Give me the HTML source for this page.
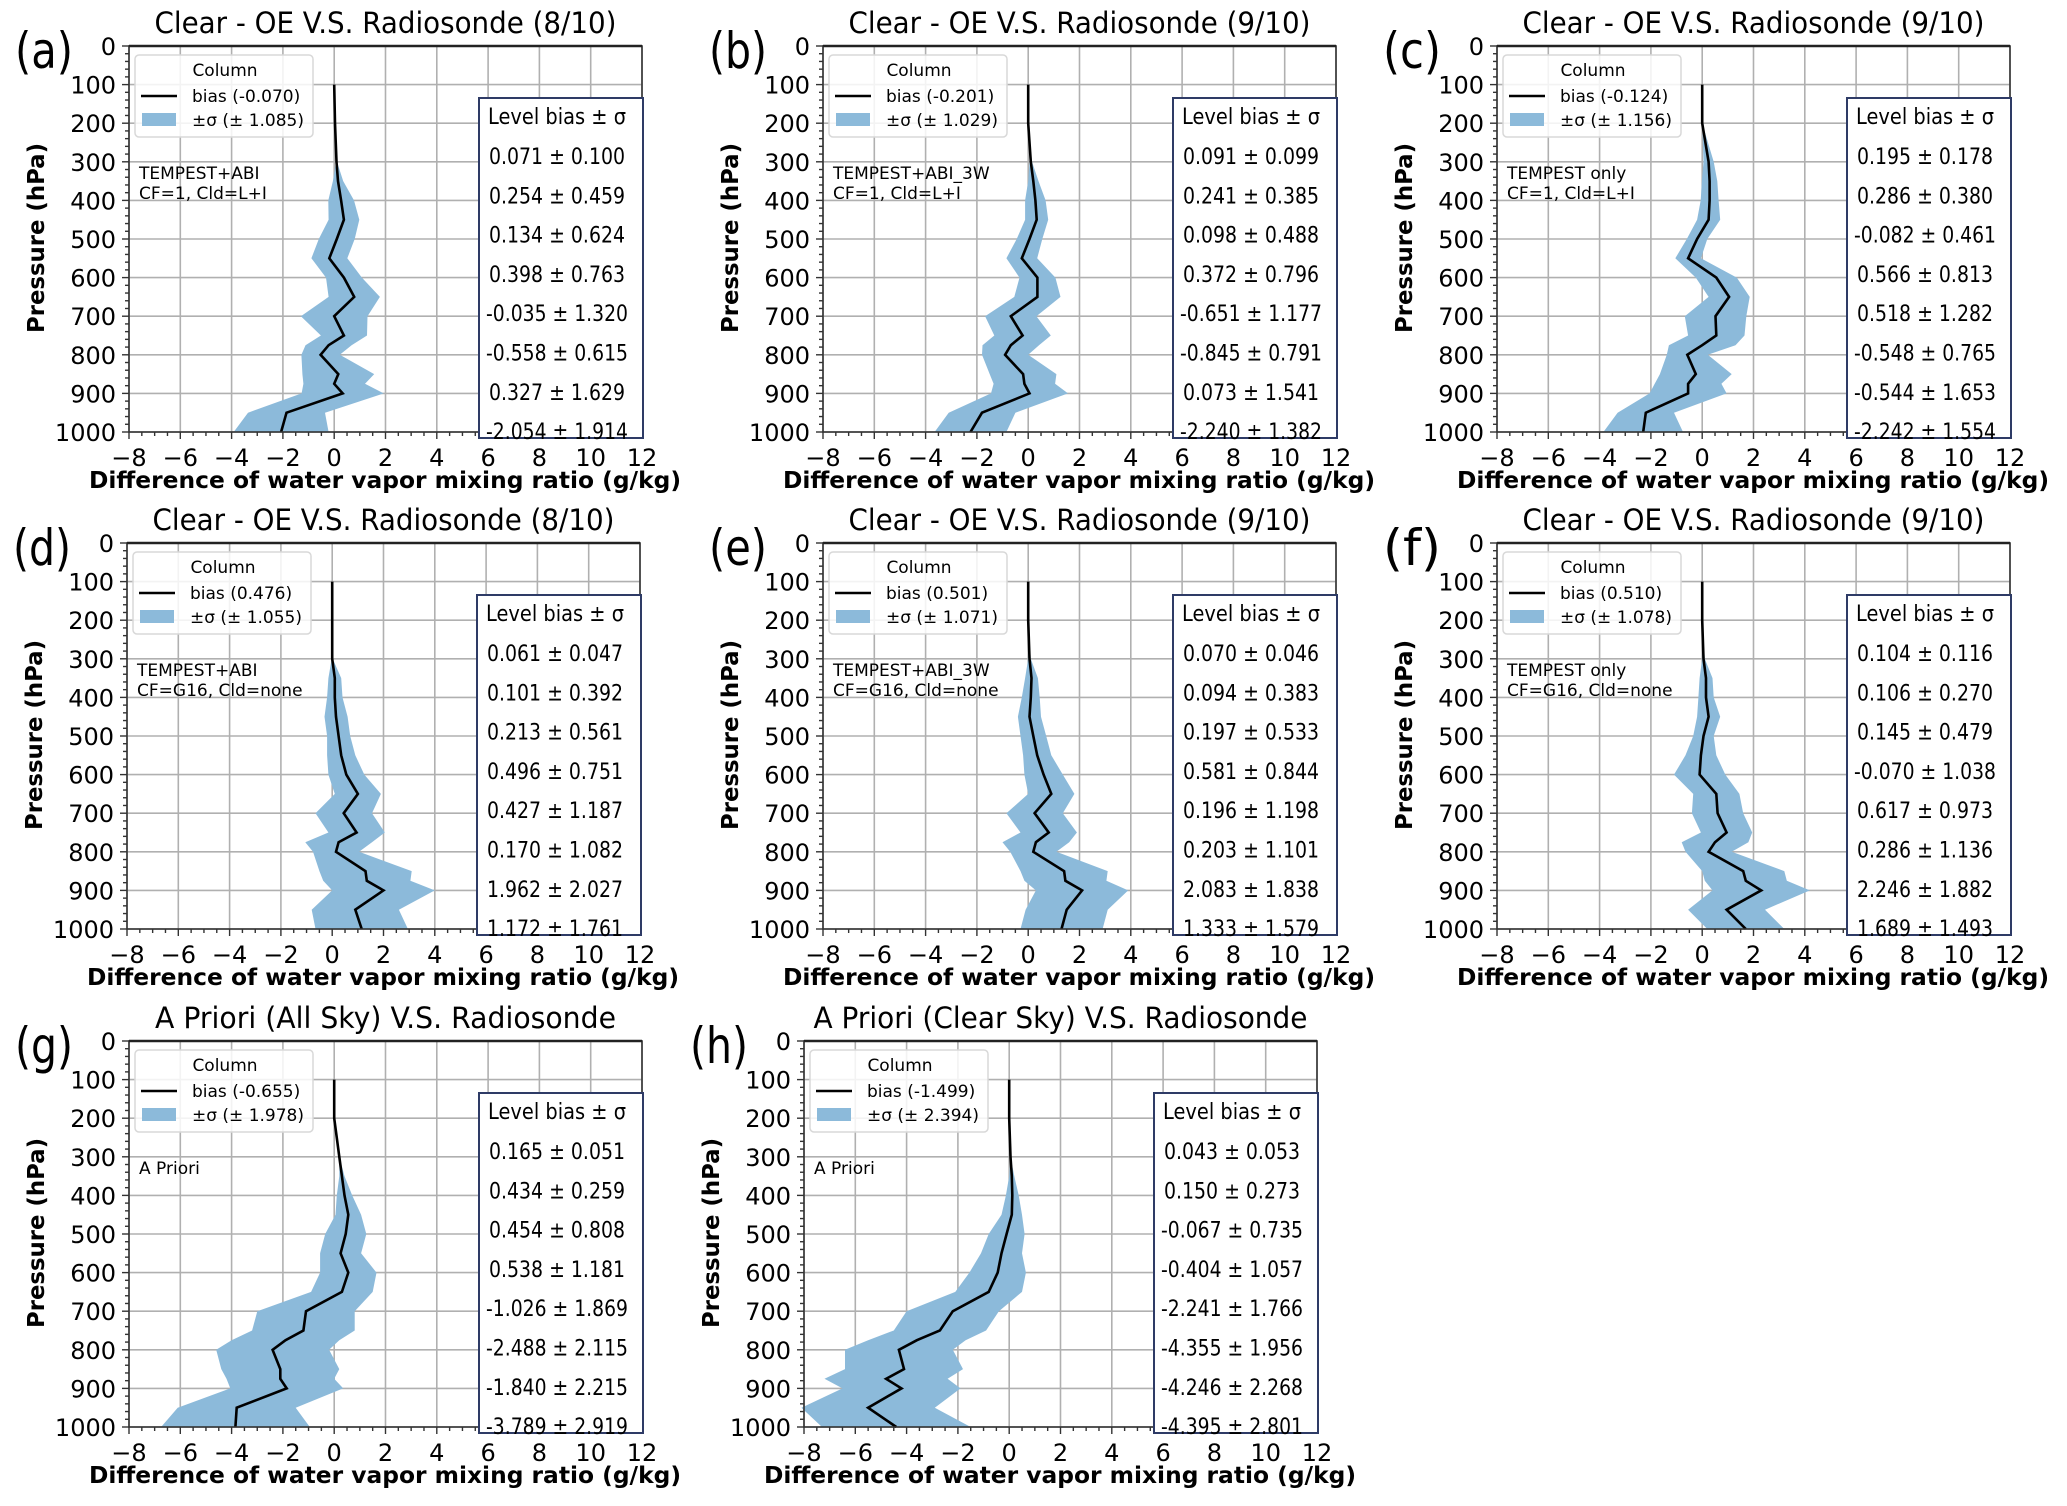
<!DOCTYPE html>
<html><head><meta charset="utf-8"><style>
html,body{margin:0;padding:0;background:#fff}
svg{display:block}
text{font-family:"DejaVu Sans","Liberation Sans",sans-serif;fill:#000}
</style></head><body>
<svg id="fig" width="2067" height="1506" viewBox="0 0 2067 1506" xmlns="http://www.w3.org/2000/svg"></svg>
<script>
const levels=[100,200,300,350,400,450,500,550,600,650,700,750,775,800,850,875,900,950,1000];
const xTicks=[-8,-6,-4,-2,0,2,4,6,8,10,12];
const yTicks=[0,100,200,300,400,500,600,700,800,900,1000];
const biasA=[0,0.03,0.09,0.15,0.27,0.38,0.1,-0.19,0.38,0.78,0.0,0.38,-0.22,-0.53,0.16,0,0.33,-1.86,-2.07];
const sigA=[0,0,0.02,0.2,0.5,0.6,0.7,0.7,0.7,1.0,1.3,0.9,0.9,0.75,1.4,1.2,1.6,1.5,1.85];
const biasB=[0,0,0.1,0.2,0.28,0.33,0.05,-0.25,0.36,0.36,-0.68,-0.22,-0.68,-0.9,-0.2,-0.15,0.05,-1.8,-2.25];
const sigB=[0,0,0.05,0.2,0.4,0.45,0.5,0.6,0.7,0.9,1.0,1.1,1.1,0.9,1.3,1.2,1.5,1.3,1.4];
const biasC=[0,0,0.25,0.29,0.29,0.25,-0.2,-0.55,0.55,1.05,0.52,0.55,0.0,-0.58,-0.25,-0.55,-0.55,-2.2,-2.3];
const sigC=[0,0,0.2,0.3,0.35,0.45,0.4,0.5,0.8,0.8,1.2,1.1,1.3,0.8,1.4,1.3,1.5,1.1,1.55];
const biasD=[0,0,0.0,0.1,0.1,0.15,0.25,0.35,0.55,1.0,0.45,0.95,0.25,0.15,1.3,1.35,2.0,0.9,1.15];
const sigD=[0,0,0.02,0.25,0.3,0.45,0.45,0.55,0.7,0.9,1.1,1.1,1.3,0.9,1.8,1.7,2.0,1.7,1.8];
const biasE=[0,0,0.05,0.13,0.1,0.05,0.2,0.35,0.6,0.9,0.25,0.8,0.3,0.2,1.4,1.45,2.1,1.5,1.3];
const sigE=[0,0,0.05,0.25,0.35,0.45,0.5,0.55,0.75,0.9,1.1,1.1,1.3,0.9,1.7,1.6,1.8,1.6,1.6];
const biasF=[0,0,0.05,0.15,0.15,0.25,0.05,-0.05,-0.1,0.55,0.6,0.95,0.5,0.25,1.6,1.7,2.3,0.95,1.7];
const sigF=[0,0,0.05,0.25,0.3,0.45,0.4,0.6,1.0,0.9,1.0,1.0,1.3,0.9,1.6,1.6,1.9,1.5,1.5];
const biasG=[0,0,0.2,0.3,0.4,0.55,0.45,0.25,0.55,0.3,-1.1,-1.2,-1.9,-2.4,-2.1,-2.1,-1.85,-3.8,-3.85];
const sigG=[0,0,0,0.1,0.3,0.5,0.8,0.8,1.1,1.2,1.9,2.0,2.1,2.2,2.3,2.1,2.2,2.3,2.9];
const biasH=[0,0,0.05,0.1,0.12,0.1,-0.1,-0.3,-0.45,-0.8,-2.2,-2.7,-3.6,-4.3,-4.1,-4.8,-4.2,-5.5,-4.4];
const sigH=[0,0,0,0.1,0.25,0.4,0.7,0.8,1.1,1.3,1.8,1.8,1.9,2.1,2.3,2.4,2.3,2.6,2.9];
const tableA=["0.071 ± 0.100","0.254 ± 0.459","0.134 ± 0.624","0.398 ± 0.763","-0.035 ± 1.320","-0.558 ± 0.615","0.327 ± 1.629","-2.054 ± 1.914"];
const tableB=["0.091 ± 0.099","0.241 ± 0.385","0.098 ± 0.488","0.372 ± 0.796","-0.651 ± 1.177","-0.845 ± 0.791","0.073 ± 1.541","-2.240 ± 1.382"];
const tableC=["0.195 ± 0.178","0.286 ± 0.380","-0.082 ± 0.461","0.566 ± 0.813","0.518 ± 1.282","-0.548 ± 0.765","-0.544 ± 1.653","-2.242 ± 1.554"];
const tableD=["0.061 ± 0.047","0.101 ± 0.392","0.213 ± 0.561","0.496 ± 0.751","0.427 ± 1.187","0.170 ± 1.082","1.962 ± 2.027","1.172 ± 1.761"];
const tableE=["0.070 ± 0.046","0.094 ± 0.383","0.197 ± 0.533","0.581 ± 0.844","0.196 ± 1.198","0.203 ± 1.101","2.083 ± 1.838","1.333 ± 1.579"];
const tableF=["0.104 ± 0.116","0.106 ± 0.270","0.145 ± 0.479","-0.070 ± 1.038","0.617 ± 0.973","0.286 ± 1.136","2.246 ± 1.882","1.689 ± 1.493"];
const tableG=["0.165 ± 0.051","0.434 ± 0.259","0.454 ± 0.808","0.538 ± 1.181","-1.026 ± 1.869","-2.488 ± 2.115","-1.840 ± 2.215","-3.789 ± 2.919"];
const tableH=["0.043 ± 0.053","0.150 ± 0.273","-0.067 ± 0.735","-0.404 ± 1.057","-2.241 ± 1.766","-4.355 ± 1.956","-4.246 ± 2.268","-4.395 ± 2.801"];

const panels=[
 {id:'a',L:129,T:46,title:'Clear - OE V.S. Radiosonde (8/10)',tl:462,b:'-0.070',s:'1.085',note:['TEMPEST+ABI','CF=1, Cld=L+I'],bias:biasA,sig:sigA,tab:tableA},
 {id:'b',L:823,T:46,title:'Clear - OE V.S. Radiosonde (9/10)',tl:462,b:'-0.201',s:'1.029',note:['TEMPEST+ABI_3W','CF=1, Cld=L+I'],bias:biasB,sig:sigB,tab:tableB},
 {id:'c',L:1497,T:46,title:'Clear - OE V.S. Radiosonde (9/10)',tl:462,b:'-0.124',s:'1.156',note:['TEMPEST only','CF=1, Cld=L+I'],bias:biasC,sig:sigC,tab:tableC},
 {id:'d',L:127,T:543,title:'Clear - OE V.S. Radiosonde (8/10)',tl:462,b:'0.476',s:'1.055',note:['TEMPEST+ABI','CF=G16, Cld=none'],bias:biasD,sig:sigD,tab:tableD},
 {id:'e',L:823,T:543,title:'Clear - OE V.S. Radiosonde (9/10)',tl:462,b:'0.501',s:'1.071',note:['TEMPEST+ABI_3W','CF=G16, Cld=none'],bias:biasE,sig:sigE,tab:tableE},
 {id:'f',L:1497,T:543,title:'Clear - OE V.S. Radiosonde (9/10)',tl:462,b:'0.510',s:'1.078',note:['TEMPEST only','CF=G16, Cld=none'],bias:biasF,sig:sigF,tab:tableF},
 {id:'g',L:129,T:1041,title:'A Priori (All Sky) V.S. Radiosonde',tl:461,b:'-0.655',s:'1.978',note:['A Priori'],bias:biasG,sig:sigG,tab:tableG},
 {id:'h',L:804,T:1041,title:'A Priori (Clear Sky) V.S. Radiosonde',tl:494,b:'-1.499',s:'2.394',note:['A Priori'],bias:biasH,sig:sigH,tab:tableH}
];
const W=513,H=386,NS='http://www.w3.org/2000/svg';
const svg=document.getElementById('fig');
function mk(tag,parent,attrs){const e=document.createElementNS(NS,tag);for(const k in attrs)e.setAttribute(k,attrs[k]);parent.appendChild(e);return e;}
function txt(parent,x,y,s,attrs){const e=mk('text',parent,Object.assign({x:x,y:y},attrs||{}));e.textContent=s;return e;}

panels.forEach(P=>{
 const g=mk('g',svg,{});
 
 
 const xs=v=>P.L+(v+8)/20*W;
 const ys=p=>P.T+p/1000*H;
 const grid=mk('g',g,{stroke:'#b0b0b0','stroke-width':1.6});
 
 
 xTicks.forEach(v=>mk('line',grid,{x1:xs(v),x2:xs(v),y1:P.T,y2:P.T+H}));
 yTicks.forEach(p=>mk('line',grid,{x1:P.L,x2:P.L+W,y1:ys(p),y2:ys(p)}));
 let d='';
 levels.forEach((p,i)=>{d+=(i?'L':'M')+xs(P.bias[i]+P.sig[i]).toFixed(1)+','+ys(p).toFixed(1);});
 for(let i=levels.length-1;i>=0;i--)d+='L'+xs(P.bias[i]-P.sig[i]).toFixed(1)+','+ys(levels[i]).toFixed(1);
 const band=mk('path',g,{d:d+'Z',fill:'#8cbada',stroke:'none'});
 
 
 let dl='';
 levels.forEach((p,i)=>{dl+=(i?'L':'M')+xs(P.bias[i]).toFixed(1)+','+ys(p).toFixed(1);});
 const line=mk('path',g,{d:dl,fill:'none',stroke:'#000','stroke-width':2.6});
 
 
 const sp=mk('rect',g,{x:P.L,y:P.T,width:W,height:H,fill:'none',stroke:'#333','stroke-width':1.6});
 
 
 mk('line',g,{x1:P.L,x2:P.L+W,y1:P.T,y2:P.T,stroke:'#222','stroke-width':2.5});
 const tk=mk('g',g,{stroke:'#333','stroke-width':1.4});
 for(let p=0;p<=1000;p+=20){const maj=p%100===0;mk('line',tk,{x1:P.L-(maj?7:4),x2:P.L,y1:ys(p),y2:ys(p)});}
 for(let v=-8;v<=12;v+=0.5){const maj=v%2===0;mk('line',tk,{x1:xs(v),x2:xs(v),y1:P.T+H,y2:P.T+H+(maj?7:4)});}
 yTicks.forEach(p=>{const t=txt(g,P.L-13,ys(p)+9,String(p),{'font-size':24,'text-anchor':'end'});
  });
 xTicks.forEach(v=>{const t=txt(g,xs(v),P.T+H+34,(v<0?'\u2212':'')+Math.abs(v),{'font-size':24,'text-anchor':'middle'});
  });
 const tt=txt(g,P.L+W/2,P.T-13,P.title,{'font-size':29,'text-anchor':'middle',textLength:P.tl,lengthAdjust:'spacingAndGlyphs'});
 
 const pl=txt(g,P.L-114,P.T+22,'('+P.id+')',{'font-size':50,textLength:58,lengthAdjust:'spacingAndGlyphs'});
 
 const yl=txt(g,0,0,'Pressure (hPa)',{'font-size':23,'font-weight':'bold','text-anchor':'middle',transform:'translate('+(P.L-85)+','+(P.T+192)+') rotate(-90)',textLength:190,lengthAdjust:'spacingAndGlyphs'});
 
 const xl=txt(g,P.L+256,P.T+H+56,'Difference of water vapor mixing ratio (g/kg)',{'font-size':23,'font-weight':'bold','text-anchor':'middle',textLength:592,lengthAdjust:'spacingAndGlyphs'});
 
 const lg=mk('g',g,{});
 
 mk('rect',lg,{x:P.L+6,y:P.T+9,width:178,height:82,rx:4,fill:'#fff','fill-opacity':0.85,stroke:'#d8d8d8','stroke-width':1.5});
 txt(lg,P.L+96,P.T+30,'Column',{'font-size':17,'text-anchor':'middle'});
 mk('line',lg,{x1:P.L+12,x2:P.L+48,y1:P.T+50,y2:P.T+50,stroke:'#000','stroke-width':2.6});
 txt(lg,P.L+63,P.T+56,'bias ('+P.b+')',{'font-size':17});
 mk('rect',lg,{x:P.L+13,y:P.T+67,width:34,height:13,fill:'#8cbada'});
 txt(lg,P.L+63,P.T+80,'\u00b1\u03c3 (\u00b1 '+P.s+')',{'font-size':17});
 P.note.forEach((s,i)=>{const n=txt(g,P.L+10,P.T+133+i*20,s,{'font-size':17});
  });
 const tb=mk('g',g,{});
 
 mk('rect',tb,{x:P.L+350,y:P.T+52,width:164,height:340,fill:'#fff',stroke:'#2e3b66','stroke-width':2});
 txt(tb,P.L+428,P.T+78,'Level bias \u00b1 \u03c3',{'font-size':22,'text-anchor':'middle',textLength:138,lengthAdjust:'spacingAndGlyphs'});
 P.tab.forEach((s,i)=>{const neg=s[0]==='-';
  const r=txt(tb,P.L+428,P.T+118+i*39.3,s,{'font-size':22,'text-anchor':'middle',textLength:neg?142:136,lengthAdjust:'spacingAndGlyphs'});
  });
});
</script>
</body></html>
